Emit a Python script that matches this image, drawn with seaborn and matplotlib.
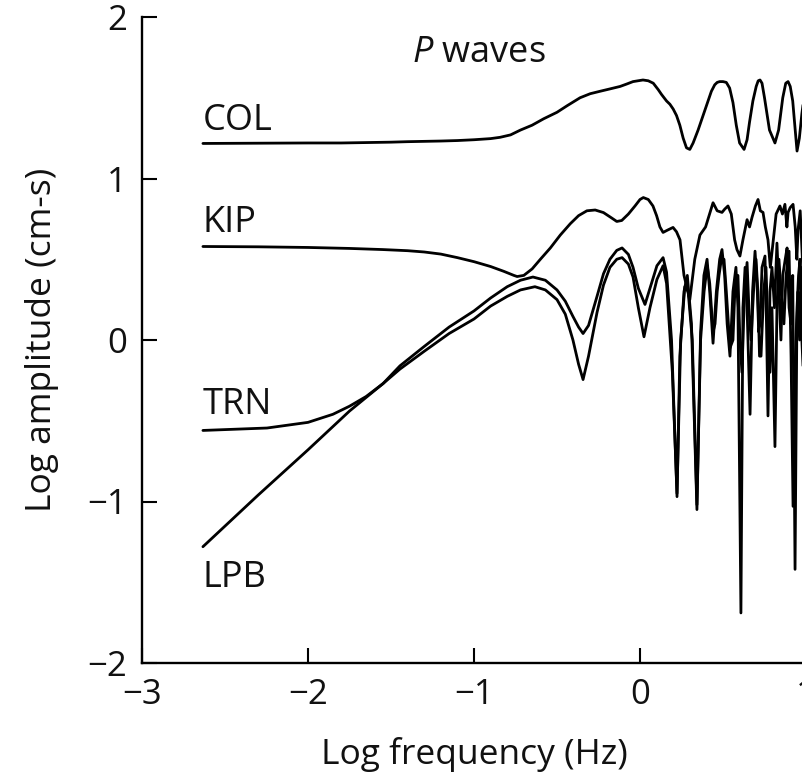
import numpy as np
import pandas as pd
import matplotlib
matplotlib.use('Agg')
import matplotlib.pyplot as plt
import seaborn as sns

# Curves (log frequency, log amplitude)
col_x = [-2.633, -2.0, -1.8, -1.5, -1.4, -1.2, -1.1, -1.0, -0.9, -0.843, -0.78, -0.72,
         -0.65, -0.58, -0.5, -0.44, -0.361, -0.3, -0.241, -0.18, -0.12, -0.08, -0.042,
         0.018, 0.05, 0.08, 0.11, 0.13, 0.16, 0.18, 0.2, 0.22, 0.24, 0.26, 0.28, 0.30,
         0.32, 0.35, 0.40, 0.43, 0.45, 0.465, 0.48, 0.50, 0.52, 0.54, 0.56, 0.58, 0.60,
         0.627, 0.645, 0.66, 0.68, 0.70, 0.712, 0.723, 0.735, 0.75, 0.78, 0.813, 0.835,
         0.86, 0.878, 0.892, 0.905, 0.92, 0.935, 0.946, 0.96, 0.975, 0.99, 1.0]
col_y = [1.217, 1.22, 1.22, 1.225, 1.228, 1.232, 1.235, 1.24, 1.247, 1.255, 1.27, 1.30,
         1.33, 1.37, 1.41, 1.45, 1.50, 1.525, 1.54, 1.555, 1.57, 1.585, 1.60,
         1.61, 1.605, 1.59, 1.55, 1.52, 1.48, 1.46, 1.43, 1.39, 1.33, 1.25, 1.19, 1.18,
         1.22, 1.30, 1.45, 1.54, 1.58, 1.595, 1.60, 1.60, 1.595, 1.56, 1.47, 1.33, 1.22,
         1.18, 1.24, 1.35, 1.48, 1.57, 1.605, 1.61, 1.59, 1.50, 1.30, 1.22, 1.30,
         1.50, 1.59, 1.60, 1.57, 1.48, 1.30, 1.17, 1.25, 1.40, 1.52, 1.55]

kip_x = [-2.633, -2.3, -2.0, -1.75, -1.55, -1.4, -1.3, -1.2, -1.1, -1.0, -0.9, -0.82,
         -0.76, -0.74, -0.7, -0.65, -0.6, -0.54, -0.48, -0.42, -0.37, -0.32, -0.27,
         -0.22, -0.17, -0.14, -0.11, -0.07, -0.03, 0.0, 0.02, 0.05, 0.078, 0.1, 0.12,
         0.139, 0.165, 0.199, 0.22, 0.241, 0.265, 0.30, 0.33, 0.361, 0.395, 0.425,
         0.44, 0.465, 0.494, 0.51, 0.53, 0.55, 0.57, 0.584, 0.602, 0.62, 0.645, 0.66,
         0.675, 0.695, 0.711, 0.725, 0.741, 0.755, 0.771, 0.785, 0.801, 0.82, 0.843,
         0.858, 0.873, 0.885, 0.892, 0.905, 0.922, 0.935, 0.945, 0.952, 0.965, 0.976,
         0.988, 1.0]
kip_y = [0.579, 0.577, 0.573, 0.567, 0.56, 0.553, 0.545, 0.532, 0.51, 0.485, 0.455, 0.425,
         0.40, 0.393, 0.40, 0.44, 0.50, 0.57, 0.65, 0.72, 0.77, 0.80, 0.805,
         0.789, 0.755, 0.734, 0.74, 0.78, 0.83, 0.87, 0.882, 0.87, 0.83, 0.77, 0.70,
         0.666, 0.68, 0.697, 0.67, 0.62, 0.40, 0.25, 0.50, 0.65, 0.70, 0.80,
         0.85, 0.80, 0.79, 0.81, 0.83, 0.78, 0.62, 0.56, 0.52, 0.62, 0.745, 0.70,
         0.76, 0.83, 0.87, 0.80, 0.79, 0.70, 0.62, 0.45, 0.60, 0.78, 0.83,
         0.78, 0.84, 0.70, 0.79, 0.82, 0.84, 0.70, 0.50, 0.68, 0.80, 0.55,
         0.30, 0.70]

trn_x = [-2.633, -2.247, -2.0, -1.85, -1.75, -1.65, -1.548, -1.446, -1.3, -1.15, -1.0,
         -0.9, -0.8, -0.72, -0.645, -0.57, -0.5, -0.45, -0.404, -0.37, -0.343, -0.31,
         -0.259, -0.22, -0.181, -0.14, -0.108, -0.07, -0.042, -0.01, 0.03, 0.06, 0.102,
         0.139, 0.16, 0.19, 0.223, 0.24, 0.265, 0.285, 0.31, 0.343, 0.365, 0.385, 0.404,
         0.42, 0.44, 0.46, 0.48, 0.494, 0.51, 0.525, 0.542, 0.56, 0.578, 0.59, 0.608,
         0.62, 0.633, 0.645, 0.663, 0.678, 0.693, 0.705, 0.715, 0.723, 0.735, 0.753,
         0.762, 0.771, 0.783, 0.795, 0.81, 0.825, 0.837, 0.849, 0.86, 0.875, 0.886,
         0.898, 0.91, 0.92, 0.934, 0.945, 0.952, 0.962, 0.976, 0.988, 1.0]
trn_y = [-0.56, -0.545, -0.51, -0.46, -0.41, -0.35, -0.27, -0.16, -0.04, 0.08, 0.18,
         0.26, 0.33, 0.37, 0.39, 0.37, 0.31, 0.24, 0.146, 0.08, 0.04, 0.09,
         0.27, 0.41, 0.50, 0.555, 0.57, 0.53, 0.45, 0.32, 0.22, 0.32, 0.46,
         0.51, 0.42, 0.0, -0.97, -0.1, 0.3, 0.4, 0.1, -1.05, 0.05, 0.4, 0.50,
         0.3, -0.02, 0.3, 0.5, 0.56, 0.4, 0.1, -0.10, 0.3, 0.45, 0.2, -1.69,
         0.2, 0.45, 0.2, -0.46, 0.3, 0.55, 0.35, 0.05, 0.1, 0.45, 0.52,
         0.1, -0.47, 0.3, 0.45, 0.2, 0.60, 0.3, 0.0, 0.4, 0.5, 0.57,
         0.2, 0.1, 0.4, -1.42, 0.1, 0.3, 0.0, 0.45, -0.2, 0.3]

lpb_x = [-2.633, -2.3, -2.0, -1.75, -1.548, -1.446, -1.3, -1.15, -1.0, -0.9, -0.8, -0.72,
         -0.633, -0.57, -0.5, -0.45, -0.404, -0.37, -0.343, -0.31, -0.259, -0.22, -0.181,
         -0.14, -0.108, -0.07, -0.042, -0.01, 0.024, 0.06, 0.102, 0.139, 0.16, 0.195,
         0.223, 0.245, 0.27, 0.29, 0.315, 0.343, 0.365, 0.386, 0.405, 0.42, 0.44, 0.452,
         0.465, 0.476, 0.49, 0.506, 0.52, 0.542, 0.56, 0.575, 0.59, 0.602, 0.614, 0.63,
         0.645, 0.656, 0.669, 0.684, 0.699, 0.71, 0.72, 0.729, 0.745, 0.759, 0.77, 0.783,
         0.795, 0.813, 0.825, 0.837, 0.85, 0.867, 0.88, 0.898, 0.91, 0.922, 0.93, 0.946,
         0.955, 0.964, 0.975, 0.988, 1.0]
lpb_y = [-1.28, -0.96, -0.68, -0.44, -0.27, -0.18, -0.07, 0.04, 0.13, 0.21, 0.27, 0.31,
         0.33, 0.31, 0.25, 0.16, 0.0, -0.15, -0.245, -0.1, 0.17, 0.34, 0.45,
         0.50, 0.51, 0.47, 0.39, 0.2, 0.02, 0.2, 0.375, 0.46, 0.35, -0.2,
         -0.95, 0.0, 0.33, 0.3, 0.0, -1.02, 0.0, 0.3, 0.46, 0.35, 0.05, 0.1,
         0.3, 0.4, 0.5, 0.50, 0.3, -0.05, 0.0, 0.4, 0.4, 0.0, -0.2, 0.3,
         0.48, 0.2, 0.0, 0.3, 0.50, 0.3, -0.1, -0.1, 0.3, 0.45, 0.1, -0.2,
         0.2, -0.66, 0.2, 0.5, 0.3, 0.1, 0.4, 0.55, -0.1, -1.03, -0.3, 0.2,
         0.4, 0.5, 0.0, -0.3, 0.2]

stations = ['COL', 'KIP', 'TRN', 'LPB']
label_y = [1.30, 0.666, -0.46, -1.53]

sns.set_theme(style='ticks')
plt.rcParams['font.family'] = ['Open Sans', 'DejaVu Sans']
plt.rcParams['mathtext.fontset'] = 'custom'
plt.rcParams['mathtext.rm'] = 'Open Sans'
plt.rcParams['mathtext.it'] = 'Open Sans:italic'

fig = plt.figure(figsize=(8.02, 7.78), dpi=100)
ax = fig.add_axes([142 / 802, 115 / 778, 664 / 802, 646 / 778])

curves = [(col_x, col_y), (kip_x, kip_y), (trn_x, trn_y), (lpb_x, lpb_y)]
for name, (xs, ys) in zip(stations, curves):
    d = pd.DataFrame({'f': xs, 'a': ys})
    sns.lineplot(data=d, x='f', y='a', ax=ax, color='black', lw=2.0,
                 sort=False, estimator=None)

for name, yy in zip(stations, label_y):
    ax.text(-2.633, yy, name, fontsize=26, ha='left', va='baseline', color='#111111')

ax.text(-1.373, 1.72, r'$\mathit{P}$ waves', fontsize=26, ha='left', va='baseline',
        color='#111111')

ax.set_xlim(-3, 1)
ax.set_ylim(-2, 2)
ax.set_xticks([-3, -2, -1, 0, 1])
ax.set_yticks([-2, -1, 0, 1, 2])
ax.tick_params(direction='in', length=11, width=1.5, labelsize=25, pad=11,
               colors='black', labelcolor='#111111')
for s in ['left', 'bottom']:
    ax.spines[s].set_linewidth(1.7)
    ax.spines[s].set_color('black')
sns.despine(ax=ax)

ax.set_xlabel('Log frequency (Hz)', fontsize=25.5, labelpad=18, color='#111111')
ax.set_ylabel('Log amplitude (cm-s)', fontsize=25.5, labelpad=20, color='#111111')

fig.savefig('out.png', dpi=100)
